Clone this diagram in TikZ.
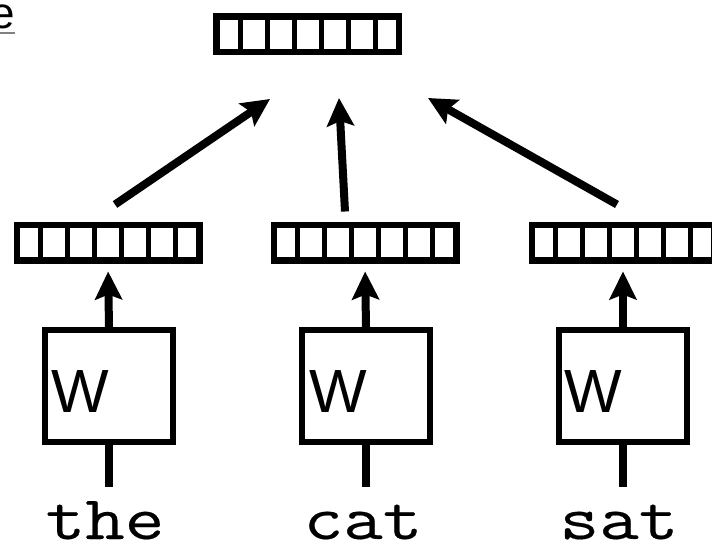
\documentclass[tikz,border=0pt]{standalone}
\usepackage{fontspec}
\newfontfamily\wordfont{Latin Modern Mono}[FakeBold=0.3]
\newfontfamily\labelfont{Liberation Sans}
\usetikzlibrary{arrows.meta,calc}

\tikzset{
  vecbox/.style={draw, line width=6.5pt, minimum width=182.5pt, minimum height=35.5pt, inner sep=0pt},
  wbox/.style={draw, line width=6pt, minimum width=128pt, minimum height=112pt, inner sep=0pt},
  wlabel/.style={anchor=base west, inner sep=0pt, font=\labelfont\fontsize{61}{61}\selectfont},
  word/.style={anchor=base, inner sep=0pt, font=\wordfont\fontsize{62}{62}\selectfont},
  arr/.style={line width=8pt, -{Stealth[length=28pt, width=27pt, inset=5pt]}},
  stub/.style={line width=8pt},
}
\newcommand{\wideword}[1]{\scalebox{1.24}[1]{#1}}

\begin{document}
\begin{tikzpicture}[x=1pt, y=-1pt]
  \useasboundingbox (0,0) rectangle (712,552);
  \clip (0,0) rectangle (712,552);

  % partially visible link text in the corner
  \node[anchor=base east, inner sep=0pt, font=\labelfont\fontsize{44}{44}\selectfont] (lnk) at (15,28) {e};
  \draw[gray, line width=1.5pt] ([yshift=-5pt]lnk.base west) -- ([yshift=-5pt]lnk.base east);

  % sentence vector
  \node[vecbox] (top) at (307.5,34) {};

  % word vectors
  \node[vecbox] (v1) at (108,242.5) {};
  \node[vecbox] (v2) at (365,242.5) {};
  \node[vecbox] (v3) at (623,242.5) {};

  % cell dividers
  \foreach \v in {top,v1,v2,v3}
    \foreach \k in {1,...,6}
      \draw[line width=5pt] ($(\v.south west)!\k/7!(\v.south east)$) -- ($(\v.north west)!\k/7!(\v.north east)$);

  % shared weight boxes
  \node[wbox] (b1) at (109,386) {};
  \node[wbox] (b2) at (366,386) {};
  \node[wbox] (b3) at (623,386) {};
  \node[wlabel] (w1) at ([xshift=9pt, yshift=-26pt]b1.west) {W};
  \node[wlabel] (w2) at ([xshift=10pt, yshift=-26pt]b2.west) {W};
  \node[wlabel] (w3) at ([xshift=8pt, yshift=-26pt]b3.west) {W};

  % input words
  \node[word] (t1) at (105,539) {\wideword{the}};
  \node[word] (t2) at (363,539) {\wideword{cat}};
  \node[word] (t3) at (619,539) {\wideword{sat}};

  % words into weight boxes
  \draw[stub] (b1.south) -- ++(0,42);
  \draw[stub] (b2.south) -- ++(0,42);
  \draw[stub] (b3.south) -- ++(0,42);

  % weight boxes up to word vectors
  \draw[arr, shorten >=8pt] (b1.north) -- (v1.south);
  \draw[arr, shorten >=8pt] (b2.north) -- (v2.south);
  \draw[arr, shorten >=8pt] (b3.north) -- (v3.south);

  % word vectors combined into the sentence vector
  \draw[arr] ($(v1.north)+(7,-17)$) -- ($(top.south)+(-37.5,44)$);
  \draw[arr] ($(v2.north)+(-20,-10)$) -- ($(top.south)+(31.5,43)$);
  \draw[arr] ($(v3.north)+(-6,-17)$) -- ($(top.south)+(120.5,43)$);
\end{tikzpicture}
\end{document}
